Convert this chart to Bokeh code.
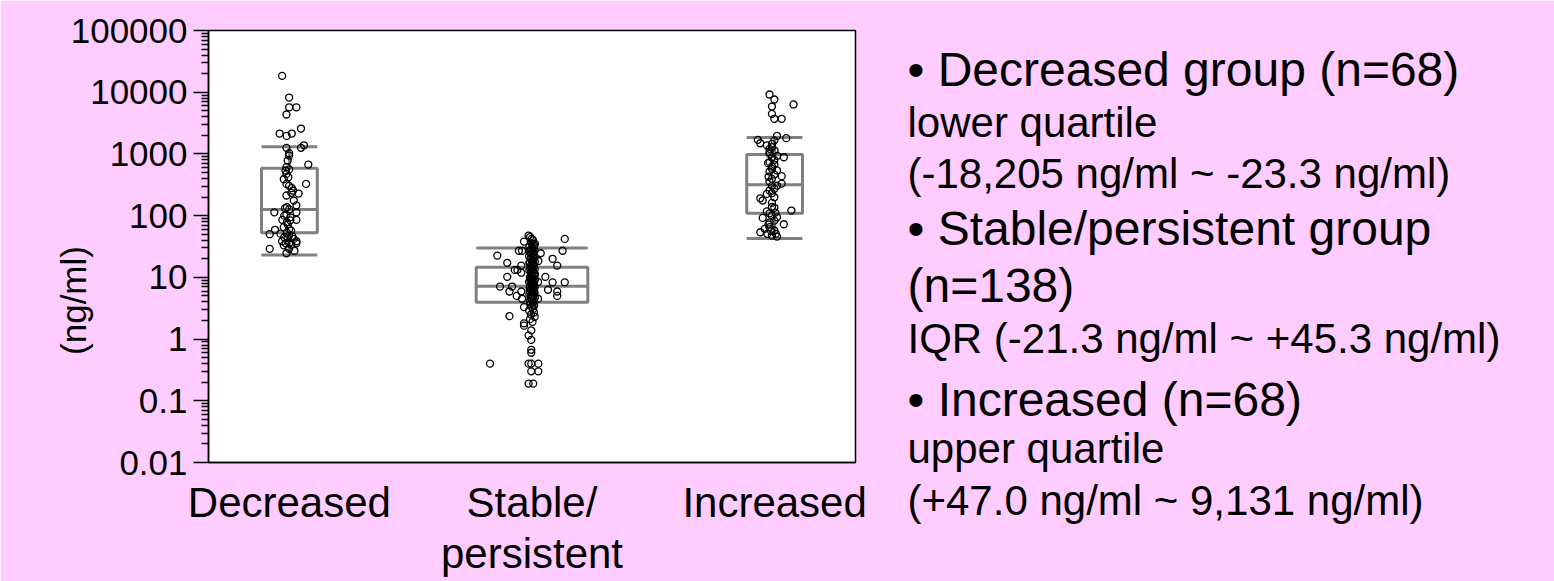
import math
from bokeh.plotting import figure
from bokeh.models import Range1d, FixedTicker, ColumnDataSource
from bokeh.core.properties import value
from bokeh.embed import file_html
from bokeh.resources import INLINE

# ---------------- data ----------------
categories = ["Decreased", "Stable/\npersistent", "Increased"]
y_tick_values = [0.01, 0.1, 1, 10, 100, 1000, 10000, 100000]
y_tick_labels = ["0.01", "0.1", "1", "10", "100", "1000", "10000", "100000"]

whisker_low = [23.1, float("nan"), 42.5]
q1 = [53, 3.95, 109]
median = [126, 7.2, 316]
q3 = [587, 14.6, 977]
whisker_high = [1303, 30, 1845]

decreased_values = [18400, 8200, 5700, 5700, 4350, 2580, 2140, 1960, 2140, 1380,
                    1255, 1255, 1030, 942, 673, 609, 561, 475, 389, 327,
                    327, 304, 279, 228, 212, 234, 147, 137, 126, 113,
                    113, 103, 85.5, 85.5, 78, 65, 61, 59, 50, 53,
                    47.5, 44.7, 38.5, 35.7, 35.7, 42, 29, 29, 24.6, 34,
                    35.7, 38.5, 71.8, 94, 132, 176, 419, 539, 57, 51,
                    46, 33, 27, 43.6, 84, 100, 255, 782]
decreased_jitter = [-0.030, -0.001, -0.001, 0.029, -0.012, 0.048, -0.040, -0.011, 0.010, 0.060,
                    0.048, -0.012, -0.001, -0.001, 0.078, -0.012, -0.001, -0.012, -0.023, 0.069,
                    -0.012, -0.001, 0.010, 0.038, -0.012, 0.008, 0.029, -0.010, -0.001, 0.029,
                    -0.062, -0.012, 0.029, -0.029, -0.010, -0.023, -0.001, -0.059, -0.081, -0.010,
                    -0.001, -0.021, -0.030, 0.029, -0.001, 0.018, -0.081, -0.001, -0.012, 0.008,
                    -0.015, 0.029, -0.007, 0.004, -0.018, 0.018, -0.004, -0.016, 0.007, -0.037,
                    0.012, -0.023, 0.021, -0.007, 0.004, -0.021, 0.015, -0.007]

stable_values = [47.6, 42, 42, 38, 35, 27, 27, 27, 24.6, 22.5,
                 20, 18.4, 17.2, 15.5, 15.5, 13.2, 13.2, 11.9, 10.2, 10.2,
                 8.3, 8.3, 8.4, 7.1, 7.1, 6.3, 5.9, 5.9, 5.9, 5.0,
                 5.0, 4.5, 4.5, 3.3, 2.35, 1.8, 1.65, 1.38, 1.15, 0.97,
                 0.67, 0.60, 0.40, 0.40, 0.40, 0.40, 0.30, 0.30, 0.19, 0.19,
                 45, 40, 36, 33, 31, 30, 29, 28, 27, 26,
                 25, 24, 23, 22, 21.5, 21, 20, 19, 18.5, 18,
                 17, 16.5, 16, 15, 14.5, 14, 13.5, 13, 12.5, 12,
                 11.5, 11, 10.5, 10, 9.8, 9.5, 9.2, 9, 8.7, 8.4,
                 8.1, 7.8, 7.5, 7.3, 7.1, 6.9, 6.7, 6.5, 6.3, 6.1,
                 5.9, 5.7, 5.5, 5.3, 5.1, 4.9, 4.7, 4.5, 4.3, 4.1,
                 3.9, 3.7, 3.5, 3.3, 3.1, 2.9, 2.7, 2.5, 2.3, 2.1,
                 1.9, 20.5, 17.5, 15.5, 12.2, 10.8, 8.9, 7.0, 5.8, 4.6,
                 3.6, 26.5, 34, 13.8, 11.3, 6.0, 4.8, 9.9]
stable_jitter = [-0.014, -0.001, 0.135, -0.033, 0.012, 0.126, -0.054, -0.041, 0.036, -0.143,
                 0.085, 0.026, -0.102, 0.104, -0.044, -0.071, -0.060, -0.044, 0.055, -0.102,
                 0.085, 0.135, 0.025, -0.132, -0.082, 0.066, -0.093, -0.044, 0.104, -0.063,
                 0.104, -0.041, 0.025, -0.033, -0.093, -0.033, -0.033, -0.003, -0.014, -0.003,
                 -0.003, -0.003, -0.173, -0.014, -0.003, 0.026, -0.003, 0.026, -0.014, 0.005,
                 -0.008, 0.004, -0.002, 0.009, -0.011, 0.001, 0.007, -0.005, 0.011, -0.009,
                 0.003, -0.004, 0.008, -0.012, 0.002, 0.010, -0.006, 0.005, -0.001, 0.012,
                 -0.010, 0.006, -0.003, 0.009, -0.007, 0.002, 0.011, -0.011, 0.004, -0.005,
                 0.008, -0.002, 0.010, -0.009, 0.003, -0.006, 0.012, -0.001, 0.007, -0.012,
                 0.005, -0.004, 0.009, -0.008, 0.001, 0.011, -0.010, 0.006, -0.003, 0.008,
                 -0.007, 0.002, 0.010, -0.011, 0.004, -0.005, 0.012, -0.002, 0.007, -0.009,
                 0.003, -0.006, 0.009, -0.001, 0.005, -0.012, 0.008, -0.004, 0.011, -0.008,
                 0.002, 0.006, -0.010, 0.004, -0.003, 0.009, -0.007, 0.001, 0.010, -0.005,
                 0.007, -0.011, 0.003, -0.002, 0.012, -0.009, 0.005, -0.006]

increased_values = [9180, 7620, 5860, 4460, 3710, 3710, 6330, 1960, 1800, 1690,
                    1490, 1455, 1660, 1210, 1135, 1000, 883, 883, 735, 673,
                    573, 519, 436, 395, 357, 331, 304, 272, 231, 191,
                    176, 161, 134, 121, 109, 100, 92, 78, 72.6, 61,
                    53.8, 50.7, 47.6, 45.8, 57.4, 65, 83, 138, 199, 255,
                    463, 625, 802, 1066, 1285, 50.7, 56, 71.8, 94, 112,
                    117, 225, 307, 427, 540, 708, 930, 1380]
increased_jitter = [-0.021, -0.001, -0.011, -0.011, -0.001, 0.029, 0.078, 0.010, 0.048, -0.069,
                    -0.059, -0.011, -0.001, -0.021, 0.000, -0.021, -0.011, 0.038, -0.021, -0.001,
                    -0.011, -0.021, 0.029, -0.011, -0.021, 0.029, -0.011, -0.001, -0.011, -0.059,
                    -0.049, -0.011, -0.001, 0.069, -0.021, -0.011, -0.049, -0.021, 0.038, -0.041,
                    -0.059, -0.030, -0.011, 0.010, -0.001, -0.021, -0.001, -0.011, -0.001, -0.021,
                    -0.001, -0.011, -0.001, -0.021, -0.011, 0.005, -0.014, -0.025, 0.010, 0.003,
                    -0.032, -0.032, 0.010, -0.025, 0.010, -0.027, 0.011, -0.032]

y_axis_title = "(ng/ml)"
legend_texts = [
    "\u2022 Decreased group (n=68)",
    "lower quartile",
    "(-18,205 ng/ml ~ -23.3 ng/ml)",
    "\u2022 Stable/persistent group",
    "(n=138)",
    "IQR (-21.3 ng/ml ~ +45.3 ng/ml)",
    "\u2022 Increased (n=68)",
    "upper quartile",
    "(+47.0 ng/ml ~ 9,131 ng/ml)",
]

# ---------------- styles / layout ----------------
FONT = "Liberation Sans"
PINK = "#ffccff"
BOX_GRAY = "#808080"
box_widths = [0.23, 0.46, 0.23]
legend_font_sizes = ["48px", "42px", "42px", "48px", "48px", "42px", "48px", "42px", "42px"]
legend_baselines = [69, 122, 173, 228, 285, 338, 399, 448, 500]

PAGE_W, PAGE_H = 1554, 581
FL, FT, FW, FH = 208, 30, 647, 432   # frame placement on the page (px)
X0, X1 = -1/3, 7/3
YLO, YHI = -2, 5


def page_to_data(px, py):
    """Page pixel -> data coordinates (used only to place free text)."""
    xd = X0 + (px - FL) * (X1 - X0) / FW
    yd = 10 ** (YHI - (py - FT) * (YHI - YLO) / FH)
    return xd, yd


p = figure(frame_width=FW, frame_height=FH,
           x_range=Range1d(X0, X1), y_range=Range1d(10 ** YLO, 10 ** YHI),
           y_axis_type="log", output_backend="svg", toolbar_location=None,
           min_border_left=FL, min_border_right=PAGE_W - FL - FW,
           min_border_top=FT, min_border_bottom=PAGE_H - FT - FH)
p.background_fill_color = "white"
p.border_fill_color = PINK
p.outline_line_color = "black"
p.outline_line_width = 1.5
p.xgrid.visible = False
p.ygrid.visible = False

yax = p.yaxis[0]
minor = [m * t for t in y_tick_values[:-1] for m in range(2, 10)]
yax.ticker = FixedTicker(ticks=y_tick_values, minor_ticks=minor)
yax.major_label_overrides = {v: l for v, l in zip(y_tick_values, y_tick_labels)}
yax.major_label_text_font = FONT
yax.major_label_text_font_size = "35px"
yax.major_label_text_color = "black"
yax.major_label_standoff = 6
yax.major_tick_out = 15
yax.major_tick_in = 0
yax.minor_tick_out = 7
yax.minor_tick_in = 0
yax.major_tick_line_width = 1.5
yax.minor_tick_line_width = 1.5
yax.axis_line_width = 1.5

xax = p.xaxis[0]
xax.ticker = FixedTicker(ticks=list(range(len(categories))), minor_ticks=[])
xax.major_label_overrides = {i: c for i, c in enumerate(categories)}
xax.major_label_text_font = FONT
xax.major_label_text_font_size = "42px"
xax.major_label_text_color = "black"
xax.major_label_text_line_height = 1.1
xax.major_label_standoff = 16
xax.major_tick_out = 0
xax.major_tick_in = 0
xax.minor_tick_out = 0
xax.minor_tick_in = 0
xax.axis_line_width = 1.5

xs = list(range(len(categories)))
left = [x - w / 2 for x, w in zip(xs, box_widths)]
right = [x + w / 2 for x, w in zip(xs, box_widths)]
bsrc = ColumnDataSource(dict(x=xs, left=left, right=right, q1=q1, q3=q3,
                             med=median, lo=whisker_low, hi=whisker_high))
style = dict(line_color=BOX_GRAY, line_width=3)
p.segment(x0="x", y0="q3", x1="x", y1="hi", source=bsrc, **style)
p.segment(x0="x", y0="lo", x1="x", y1="q1", source=bsrc, **style)
p.segment(x0="left", y0="hi", x1="right", y1="hi", source=bsrc, **style)
p.segment(x0="left", y0="lo", x1="right", y1="lo", source=bsrc, **style)
p.quad(left="left", right="right", top="q3", bottom="q1", source=bsrc,
       fill_color=None, **style)
p.segment(x0="left", y0="med", x1="right", y1="med", source=bsrc, **style)

for i, (vals, jit) in enumerate([(decreased_values, decreased_jitter),
                                 (stable_values, stable_jitter),
                                 (increased_values, increased_jitter)]):
    src = ColumnDataSource(dict(x=[i + j for j in jit], y=vals))
    p.scatter(x="x", y="y", source=src, marker="circle", size=7,
              fill_color=None, line_color="black", line_width=1.3)

# ---- free text (outside the frame) ----
tx, ty = page_to_data(73, 300)
p.text(x=[tx], y=[ty], text=[y_axis_title], angle=math.pi / 2,
       text_align="center", text_baseline="middle", level="overlay",
       text_font=value(FONT), text_font_size="35px", text_color="black")

pts = [page_to_data(907, yb) for yb in legend_baselines]
tsrc = ColumnDataSource(dict(x=[a for a, _ in pts], y=[b for _, b in pts],
                             text=legend_texts, fs=legend_font_sizes))
p.text(x="x", y="y", text="text", source=tsrc, text_font_size="fs",
       text_align="left", text_baseline="alphabetic", level="overlay",
       text_font=value(FONT), text_color="black")

html = file_html(p, INLINE, title="chart")
html = html.replace("<body>", '<body style="background-color:#ffccff;">', 1)
open("out.html", "w").write(html)
